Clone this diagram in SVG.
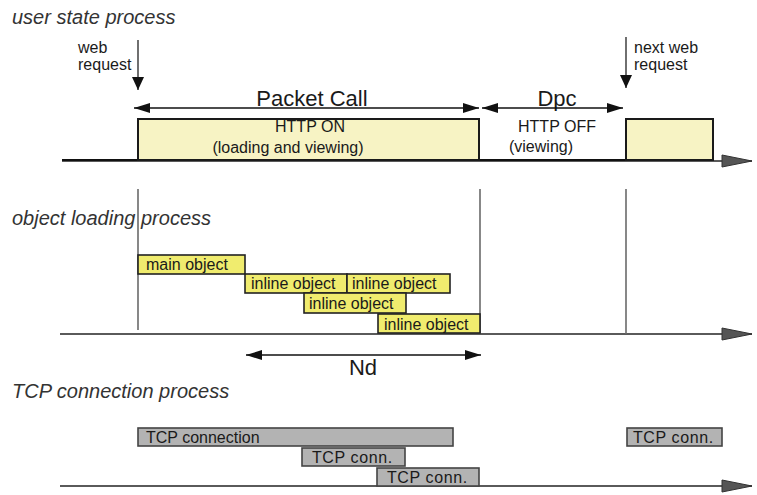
<svg xmlns="http://www.w3.org/2000/svg" width="757" height="495" viewBox="0 0 757 495">
  <style>
    text { font-family: "Liberation Sans", Arial, sans-serif; fill: #1a1a1a; }
    .title { font-size: 20px; font-style: italic; fill: #333; }
    .small { font-size: 16px; }
    .big { font-size: 22px; }
    .http { font-size: 16px; text-anchor: middle; }
    .mid { text-anchor: middle; }
    .lbl { font-size: 16px; }
    .state { fill: #f7f3c4; stroke: #1a1a1a; stroke-width: 2; }
    .obj { fill: #f0ec6e; stroke: #222; stroke-width: 1.6; }
    .tcp { fill: #b3b3b3; stroke: #444; stroke-width: 1.6; }
    .axis { stroke: #5a5a5a; stroke-width: 2; fill: none; marker-end: url(#axisHead); }
    .divider { stroke: #6a6a6a; stroke-width: 1.6; }
    .span { stroke: #111; stroke-width: 1.4; marker-start: url(#spanHead); marker-end: url(#spanHead); }
    .req { stroke: #222; stroke-width: 1.3; marker-end: url(#reqHead); }
  </style>
  <defs>
    <marker id="spanHead" markerUnits="userSpaceOnUse" markerWidth="16" markerHeight="10" refX="16" refY="5" orient="auto-start-reverse">
      <path d="M0,0 L16,5 L0,10 z" fill="#111"/>
    </marker>
    <marker id="reqHead" markerUnits="userSpaceOnUse" markerWidth="13" markerHeight="12" refX="13" refY="6" orient="auto">
      <path d="M0,0 L13,6 L0,12 z" fill="#111"/>
    </marker>
    <marker id="axisHead" markerUnits="userSpaceOnUse" markerWidth="32" markerHeight="14" refX="31" refY="7" orient="auto">
      <path d="M1,1 L31,7 L1,13 z" fill="#555" stroke="#333" stroke-width="1"/>
    </marker>
  </defs>

  <!-- section titles -->
  <g id="titles">
    <text class="title" x="12" y="24">user state process</text>
    <text class="title" x="12" y="225">object loading process</text>
    <text class="title" x="12" y="398">TCP connection process</text>
  </g>

  <!-- time axes and phase dividers -->
  <g id="axes">
    <line class="axis" x1="62" y1="161" x2="752" y2="161"/>
    <line x1="62" y1="160" x2="139" y2="160" stroke="#111" stroke-width="2.2"/>
    <line x1="478" y1="160" x2="627" y2="160" stroke="#111" stroke-width="2"/>
    <line class="axis" x1="60" y1="334" x2="752" y2="334"/>
    <line class="axis" x1="60" y1="486" x2="752" y2="486"/>
    <line class="divider" x1="138" y1="189" x2="138" y2="330"/>
    <line class="divider" x1="480" y1="189" x2="480" y2="334"/>
    <line class="divider" x1="626" y1="189" x2="626" y2="334"/>
  </g>

  <!-- user state process -->
  <g id="http-on">
    <rect class="state" x="138" y="119" width="341" height="41"/>
    <text class="http" x="310" y="132">HTTP ON</text>
    <text class="http" x="288" y="153">(loading and viewing)</text>
  </g>
  <g id="http-off">
    <text class="http" x="557" y="132">HTTP OFF</text>
    <text class="http" x="541" y="152">(viewing)</text>
  </g>
  <g id="http-on-next">
    <rect class="state" x="626" y="119" width="87" height="41"/>
  </g>
  <g id="web-request">
    <text class="small" x="78" y="53">web</text>
    <text class="small" x="78" y="70">request</text>
  </g>
  <g id="next-web-request">
    <text class="small" x="634" y="53">next web</text>
    <text class="small" x="634" y="70">request</text>
  </g>
  <g id="packet-call-label">
    <text class="big mid" x="312" y="106">Packet Call</text>
  </g>
  <g id="dpc-label">
    <text class="big mid" x="557" y="106">Dpc</text>
  </g>

  <!-- object loading process -->
  <g id="main-object">
    <rect class="obj" x="138" y="255" width="107" height="19"/>
    <text class="lbl" x="146" y="270">main object</text>
  </g>
  <g id="inline-object-1">
    <rect class="obj" x="245" y="274" width="102" height="19"/>
    <text class="lbl" x="251" y="289">inline object</text>
  </g>
  <g id="inline-object-2">
    <rect class="obj" x="347" y="274" width="103" height="19"/>
    <text class="lbl" x="352" y="289">inline object</text>
  </g>
  <g id="inline-object-3">
    <rect class="obj" x="304" y="293" width="102" height="20"/>
    <text class="lbl" x="309" y="309">inline object</text>
  </g>
  <g id="inline-object-4">
    <rect class="obj" x="378" y="314" width="102" height="19"/>
    <text class="lbl" x="384" y="330">inline object</text>
  </g>
  <g id="nd-label">
    <text class="big mid" x="363" y="375">Nd</text>
  </g>

  <!-- TCP connection process -->
  <g id="tcp-connection">
    <rect class="tcp" x="138" y="428" width="315" height="18"/>
    <text class="lbl" x="146" y="443">TCP connection</text>
  </g>
  <g id="tcp-conn-2">
    <rect class="tcp" x="302" y="448" width="103" height="18"/>
    <text class="lbl" x="312" y="463" letter-spacing="0.6">TCP conn.</text>
  </g>
  <g id="tcp-conn-3">
    <rect class="tcp" x="377" y="468" width="102" height="18"/>
    <text class="lbl" x="387" y="483" letter-spacing="0.6">TCP conn.</text>
  </g>
  <g id="tcp-conn-next">
    <rect class="tcp" x="627" y="428" width="95" height="18"/>
    <text class="lbl" x="633" y="443" letter-spacing="0.6">TCP conn.</text>
  </g>

  <!-- connectors -->
  <g id="connectors">
    <line class="req" x1="138" y1="40" x2="138" y2="90"/>
    <line class="req" x1="626" y1="37" x2="626" y2="88"/>
    <line class="span" x1="134" y1="108" x2="479" y2="108"/>
    <line class="span" x1="482" y1="108" x2="623" y2="108"/>
    <line class="span" x1="246" y1="355" x2="481" y2="355"/>
  </g>
</svg>
